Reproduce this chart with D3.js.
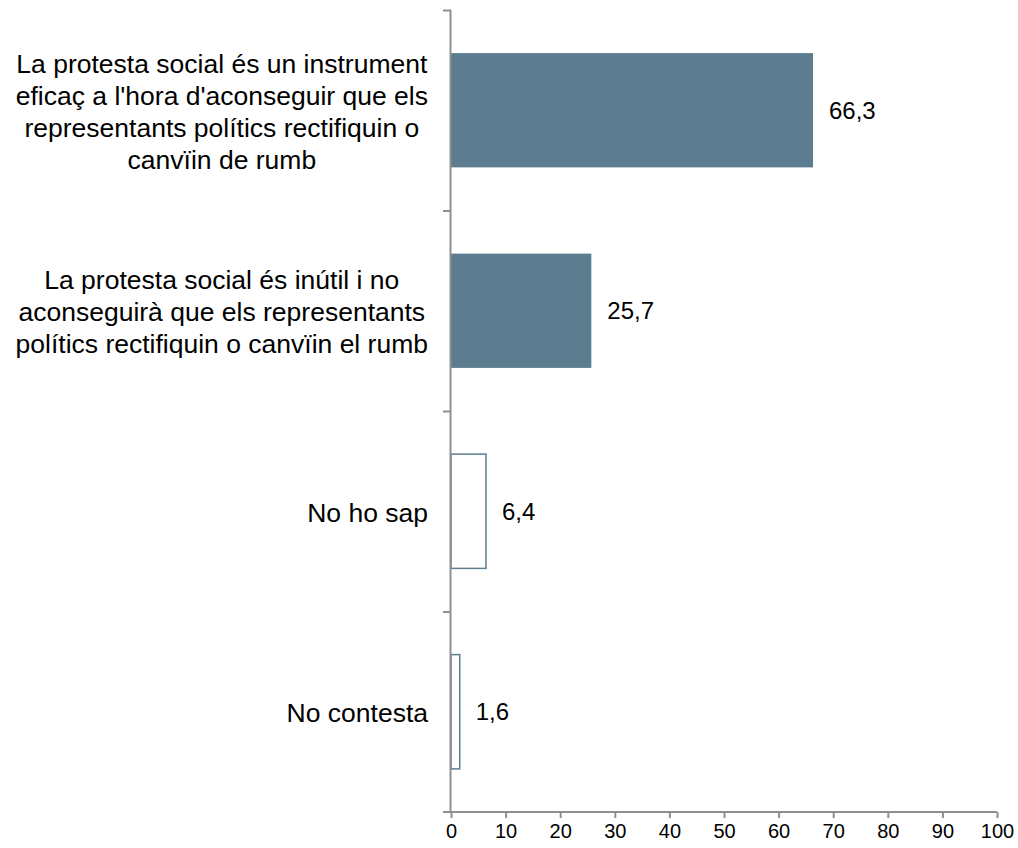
<!DOCTYPE html>
<html>
<head>
<meta charset="utf-8">
<script src="https://cdn.jsdelivr.net/npm/d3@7/dist/d3.min.js"></script>
<style>
  html, body { margin: 0; padding: 0; background: #fff; }
  svg { display: block; }
  text { font-family: "Liberation Sans", Arial, sans-serif; fill: #000; }
</style>
</head>
<body>
<svg id="chart" width="1018" height="848"></svg>
<script>
// Survey answers (percent), one bar per answer
const categories = [
  ["La protesta social és un instrument", "eficaç a l'hora d'aconseguir que els", "representants polítics rectifiquin o", "canvïin de rumb"],
  ["La protesta social és inútil i no", "aconseguirà que els representants", "polítics rectifiquin o canvïin el rumb"],
  ["No ho sap"],
  ["No contesta"]
];
const values = [66.3, 25.7, 6.4, 1.6];
const valueLabels = ["66,3", "25,7", "6,4", "1,6"];
const filled = [true, true, false, false];
const xTicks = [0, 10, 20, 30, 40, 50, 60, 70, 80, 90, 100];

const barColor = "#5c7d8f";
const axisColor = "#8f8f8f";

const svg = d3.select("#chart");
const plotLeft = 451, plotRight = 997, plotTop = 10, plotBottom = 812;

const x = d3.scaleLinear().domain([0, 100]).range([plotLeft, plotRight]);
const idx = d3.range(categories.length);
const y = d3.scaleBand().domain(idx).range([plotTop, plotBottom])
  .paddingInner(0.43).paddingOuter(0.215);
const step = y.step();

// Bars
svg.append("g").selectAll("rect").data(idx).join("rect")
  .attr("x", x(0))
  .attr("y", i => y(i))
  .attr("width", i => x(values[i]) - x(0))
  .attr("height", y.bandwidth())
  .attr("fill", i => filled[i] ? barColor : "#fff")
  .attr("stroke", i => filled[i] ? "none" : barColor)
  .attr("stroke-width", 1.5);

// Value labels
svg.append("g").selectAll("text").data(idx).join("text")
  .attr("x", i => x(values[i]) + 16)
  .attr("y", i => y(i) + y.bandwidth() / 2)
  .attr("dy", "0.35em")
  .attr("font-size", 24)
  .text(i => valueLabels[i]);

// X axis
const xAxis = svg.append("g").attr("transform", `translate(0,${plotBottom})`)
  .call(d3.axisBottom(x).tickValues(xTicks).tickSize(6).tickPadding(6).tickSizeOuter(0));
xAxis.select(".domain").remove();
xAxis.append("line").attr("x1", plotLeft - 8).attr("x2", plotRight)
  .attr("stroke", axisColor).attr("stroke-width", 2);
xAxis.selectAll(".tick line").attr("stroke", axisColor).attr("stroke-width", 2);
xAxis.selectAll(".tick text").attr("font-size", 20)
  .attr("font-family", "Liberation Sans, Arial, sans-serif").attr("fill", "#000");

// Y axis line and category boundary ticks
const yAxis = svg.append("g");
yAxis.append("line").attr("x1", plotLeft - 0.5).attr("x2", plotLeft - 0.5)
  .attr("y1", plotTop).attr("y2", plotBottom)
  .attr("stroke", axisColor).attr("stroke-width", 2);
yAxis.selectAll("line.tk").data(idx).join("line")
  .attr("class", "tk")
  .attr("x1", plotLeft - 8).attr("x2", plotLeft)
  .attr("y1", i => plotTop + i * step + 0.5).attr("y2", i => plotTop + i * step + 0.5)
  .attr("stroke", axisColor).attr("stroke-width", 2);

// Category labels: lines centred within a right-aligned block
const labelRight = 428, lineH = 32;
const lab = svg.append("g");
idx.forEach(i => {
  const lines = categories[i];
  const g = lab.append("g");
  const cy = y(i) + y.bandwidth() / 2 + 1;
  const texts = lines.map((s, k) => g.append("text")
    .attr("font-size", 26.5)
    .attr("text-anchor", "middle")
    .attr("y", cy + (k - (lines.length - 1) / 2) * lineH)
    .attr("dy", "0.35em")
    .text(s));
  const maxW = d3.max(texts, t => t.node().getComputedTextLength());
  texts.forEach(t => t.attr("x", labelRight - maxW / 2));
});
</script>
</body>
</html>
